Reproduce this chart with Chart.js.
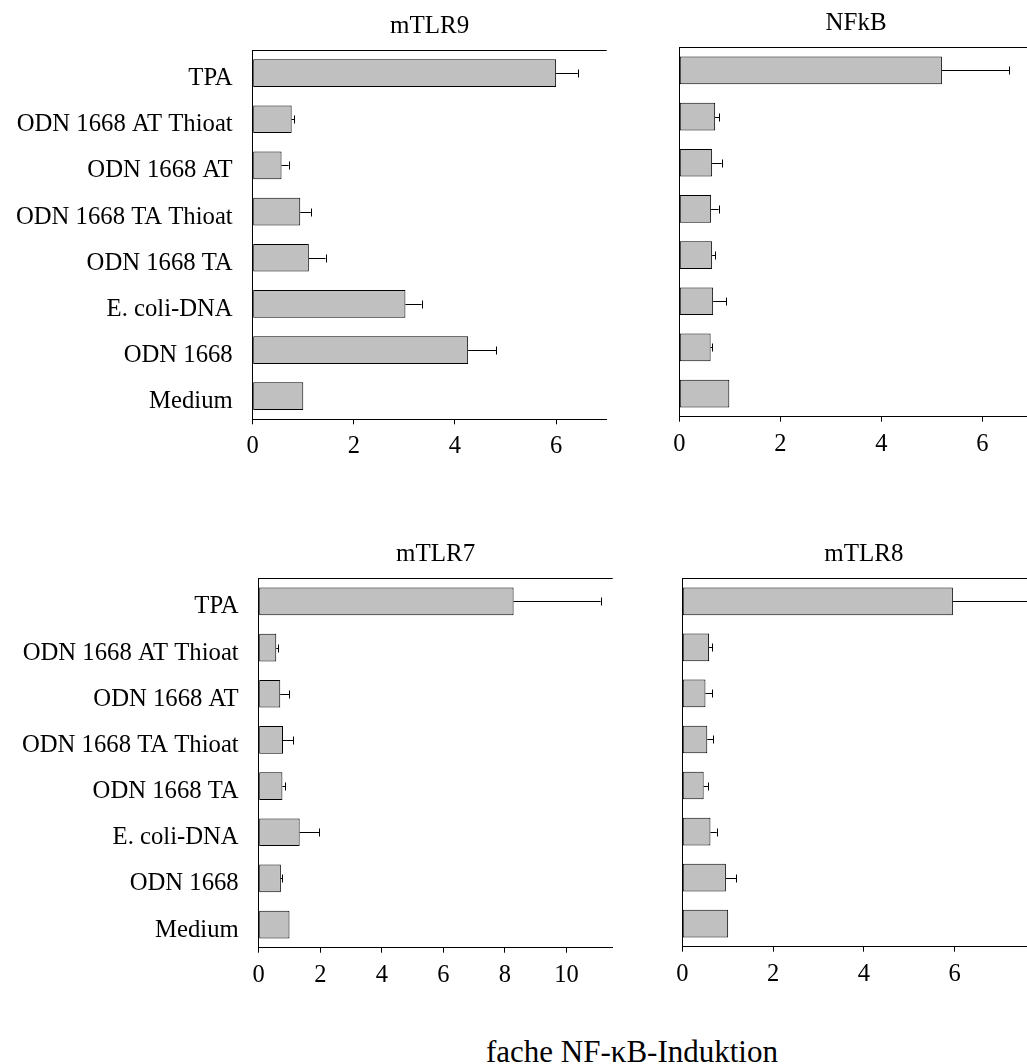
<!DOCTYPE html>
<html>
<head>
<meta charset="utf-8">
<script src="https://cdn.jsdelivr.net/npm/chart.js@4.4.1/dist/chart.umd.min.js"></script>
<style>
  html, body { margin: 0; padding: 0; background: #fff; overflow: hidden; width: 1027px; height: 1064px; }
  canvas { position: absolute; }
  #xtitle { position: absolute; left: 382px; width: 500px; top: 1035.7px; text-align: center;
            font: 31px/1 'Liberation Serif', 'Times New Roman', serif; color: #000; }
</style>
</head>
<body>
<canvas id="tlr9" width="625" height="470" style="left:0;top:0"></canvas>
<canvas id="nfkb" width="390" height="470" style="left:655px;top:0"></canvas>
<canvas id="tlr7" width="630" height="470" style="left:0;top:530px"></canvas>
<canvas id="tlr8" width="400" height="470" style="left:655px;top:530px"></canvas>
<div id="xtitle">fache NF-κB-Induktion</div>
<script>
// categories, top to bottom
const categories = ['TPA', 'ODN 1668 AT Thioat', 'ODN 1668 AT', 'ODN 1668 TA Thioat',
                    'ODN 1668 TA', 'E. coli-DNA', 'ODN 1668', 'Medium'];

const tlr9Values = [6.0, 0.77, 0.57, 0.94, 1.11, 3.02, 4.26, 1.0];
const tlr9Errors = [0.43, 0.05, 0.14, 0.21, 0.33, 0.32, 0.56, 0];

const nfkbValues = [5.2, 0.71, 0.65, 0.63, 0.65, 0.67, 0.62, 0.99];
const nfkbErrors = [1.33, 0.08, 0.19, 0.15, 0.06, 0.26, 0.03, 0];

const tlr7Values = [8.28, 0.57, 0.70, 0.79, 0.77, 1.33, 0.72, 1.0];
const tlr7Errors = [2.83, 0.07, 0.30, 0.34, 0.09, 0.64, 0.04, 0];

const tlr8Values = [5.96, 0.59, 0.51, 0.55, 0.47, 0.62, 0.96, 1.01];
const tlr8Errors = [2.0, 0.07, 0.15, 0.13, 0.10, 0.14, 0.23, 0];

const ticks9 = [0, 2, 4, 6];
const ticksNfkb = [0, 2, 4, 6];
const ticks7 = [0, 2, 4, 6, 8, 10];
const ticks8 = [0, 2, 4, 6];

const FONT = "'Liberation Serif', 'Times New Roman', serif";

// horizontal error bars (positive side only)
const errorBars = {
  id: 'errorBars',
  afterDatasetsDraw(chart) {
    const ds = chart.data.datasets[0];
    const xs = chart.scales.x;
    const ctx = chart.ctx;
    ctx.save();
    ctx.strokeStyle = '#000';
    ctx.lineWidth = 1;
    chart.getDatasetMeta(0).data.forEach((bar, i) => {
      const e = ds.errors[i];
      if (!e) return;
      const x1 = xs.getPixelForValue(ds.data[i] + e);
      const y = Math.round(bar.y) + 0.5;
      ctx.beginPath();
      ctx.moveTo(bar.x, y);
      ctx.lineTo(x1, y);
      ctx.moveTo(Math.round(x1) + 0.5, y - 4);
      ctx.lineTo(Math.round(x1) + 0.5, y + 4);
      ctx.stroke();
    });
    ctx.restore();
  }
};

// top frame line + panel title centred on the plot
const frame = {
  id: 'frame',
  afterDraw(chart) {
    const a = chart.chartArea;
    const ctx = chart.ctx;
    ctx.save();
    ctx.strokeStyle = '#000';
    ctx.lineWidth = 1;
    const y = Math.round(a.top) + 0.5;
    ctx.beginPath();
    ctx.moveTo(a.left, y);
    ctx.lineTo(a.right, y);
    ctx.stroke();
    ctx.fillStyle = '#000';
    ctx.font = '25px ' + FONT;
    ctx.textAlign = 'center';
    ctx.textBaseline = 'alphabetic';
    ctx.fillText(chart.data.datasets[0].label, (a.left + a.right) / 2, a.top - 17.5);
    ctx.restore();
  }
};

function panel(id, title, values, errors, tickValues, max, g) {
  const el = document.getElementById(id);
  const left = el.offsetLeft, top = el.offsetTop;
  return new Chart(el, {
    type: 'bar',
    data: {
      labels: categories,
      datasets: [{
        label: title,
        data: values,
        errors: errors,
        backgroundColor: '#c0c0c0',
        borderColor: '#000',
        borderWidth: 1,
        borderSkipped: false,
        barPercentage: 0.6,
        categoryPercentage: 1
      }]
    },
    options: {
      indexAxis: 'y',
      responsive: false,
      animation: false,
      layout: { padding: { top: g.plotTop - top, right: left + el.width - g.plotRight, left: 0, bottom: 0 } },
      plugins: { legend: { display: false }, tooltip: { enabled: false }, title: { display: false } },
      scales: {
        y: {
          grid: { display: false },
          border: { display: true, color: '#000', width: 1 },
          ticks: { display: g.showLabels, color: '#000', font: { family: FONT, size: 24.7 }, padding: 12, labelOffset: 5.5 },
          afterFit: s => { s.width = g.plotLeft - left; }
        },
        x: {
          min: 0,
          max: max,
          grid: { display: true, drawOnChartArea: false, drawTicks: true, tickLength: 5, color: '#000' },
          border: { display: true, color: '#000', width: 1 },
          ticks: { color: '#000', font: { family: FONT, size: 24.5 }, padding: 8, maxRotation: 0 },
          afterBuildTicks: s => { s.ticks = tickValues.map(v => ({ value: v })); },
          afterFit: s => { s.height = top + el.height - g.plotBottom; }
        }
      }
    },
    plugins: [errorBars, frame]
  });
}

panel('tlr9', 'mTLR9', tlr9Values, tlr9Errors, ticks9, 7,
  { plotLeft: 252.7, plotRight: 606.7, plotTop: 50, plotBottom: 419.3, showLabels: true });
panel('nfkb', 'NFkB', nfkbValues, nfkbErrors, ticksNfkb, 7,
  { plotLeft: 679.3, plotRight: 1032.8, plotTop: 47.3, plotBottom: 416.7, showLabels: false });
panel('tlr7', 'mTLR7', tlr7Values, tlr7Errors, ticks7, 11.5,
  { plotLeft: 258.7, plotRight: 612.7, plotTop: 578.3, plotBottom: 947.7, showLabels: true });
panel('tlr8', 'mTLR8', tlr8Values, tlr8Errors, ticks8, 8,
  { plotLeft: 682.3, plotRight: 1045.5, plotTop: 578.3, plotBottom: 946.7, showLabels: false });
</script>
</body>
</html>
